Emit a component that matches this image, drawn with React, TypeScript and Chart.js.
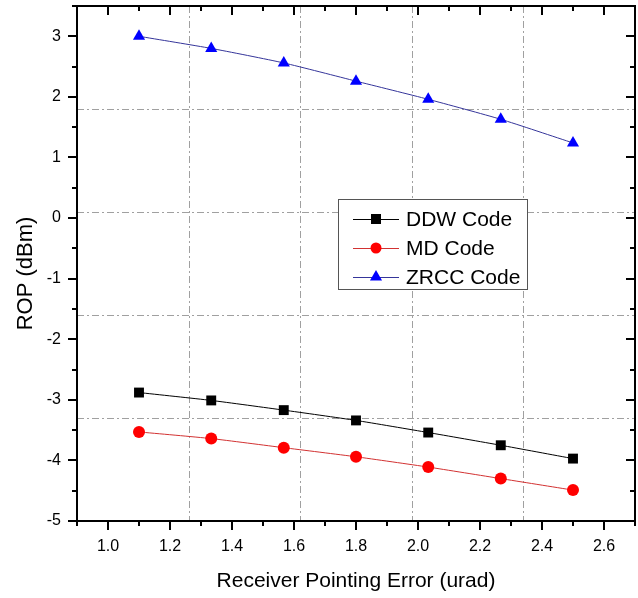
import { useEffect, useRef } from "react";
import { Chart, registerables } from "chart.js";

Chart.register(...registerables);

// Receiver pointing error (urad) sampled for every code
const pointingError = [1.1, 1.333, 1.567, 1.8, 2.033, 2.267, 2.5];

// Received optical power (dBm) per code
const ddwRop = [-2.88, -3.01, -3.17, -3.34, -3.54, -3.75, -3.97];
const mdRop = [-3.53, -3.64, -3.79, -3.94, -4.11, -4.3, -4.49];
const zrccRop = [3.0, 2.8, 2.56, 2.26, 1.96, 1.63, 1.24];

const seriesNames = ["DDW Code", "MD Code", "ZRCC Code"];

// Axis tick labels
const xTickValues = [1.0, 1.2, 1.4, 1.6, 1.8, 2.0, 2.2, 2.4, 2.6];
const yTickValues = [-5, -4, -3, -2, -1, 0, 1, 2, 3];

// Dash-dot reference grid (fifths of each axis range)
const xGridValues = [1.26, 1.62, 1.98, 2.34];
const yGridValues = [1.8, 0.1, -1.6, -3.3];

const FONT = '"Liberation Sans", Arial, Helvetica, sans-serif';

type Style = { line: string; fill: string; shape: "rect" | "circle" | "triangle" };
const seriesStyles: Style[] = [
  { line: "#000000", fill: "#000000", shape: "rect" },
  { line: "#d23232", fill: "#ff0000", shape: "circle" },
  { line: "#35359a", fill: "#0000ff", shape: "triangle" },
];

function drawMarker(ctx: CanvasRenderingContext2D, shape: Style["shape"], x: number, y: number, color: string) {
  ctx.fillStyle = color;
  ctx.beginPath();
  if (shape === "rect") {
    ctx.rect(x - 5, y - 5, 10, 10);
  } else if (shape === "circle") {
    ctx.arc(x, y, 5.5, 0, Math.PI * 2);
  } else {
    const r = 7;
    ctx.moveTo(x, y - r);
    ctx.lineTo(x + r * 0.866, y + r / 2);
    ctx.lineTo(x - r * 0.866, y + r / 2);
    ctx.closePath();
  }
  ctx.fill();
}

const gridPlugin = {
  id: "dashDotGrid",
  beforeDatasetsDraw(chart: any) {
    const { ctx, chartArea, scales } = chart;
    const { left, right, top, bottom } = chartArea;
    ctx.save();
    ctx.strokeStyle = "#a0a0a0";
    ctx.lineWidth = 1;
    ctx.setLineDash([7, 3, 2, 3]);
    for (const v of xGridValues) {
      const px = Math.round(scales.x.getPixelForValue(v)) + 0.5;
      ctx.beginPath();
      ctx.moveTo(px, top);
      ctx.lineTo(px, bottom);
      ctx.stroke();
    }
    for (const v of yGridValues) {
      const py = Math.round(scales.y.getPixelForValue(v)) + 0.5;
      ctx.beginPath();
      ctx.moveTo(left, py);
      ctx.lineTo(right, py);
      ctx.stroke();
    }
    ctx.restore();
  },
};

const framePlugin = {
  id: "frameAndTicks",
  afterDatasetsDraw(chart: any) {
    const { ctx, chartArea, scales } = chart;
    const { left, right, top, bottom } = chartArea;
    ctx.save();
    ctx.strokeStyle = "#000";
    ctx.lineWidth = 2;
    ctx.setLineDash([]);
    ctx.strokeRect(left, top, right - left, bottom - top);

    // x ticks: major every 0.2, minor every 0.1; outward at bottom, inward at top
    for (let i = 9; i <= 27; i++) {
      const major = i % 2 === 0;
      const len = major ? 9 : 5;
      const px = Math.round(scales.x.getPixelForValue(i / 10));
      ctx.beginPath();
      ctx.moveTo(px, bottom);
      ctx.lineTo(px, bottom + len);
      ctx.moveTo(px, top);
      ctx.lineTo(px, top + len);
      ctx.stroke();
    }
    // y ticks: major every 1, minor every 0.5; outward at left, inward at right
    for (let i = -10; i <= 7; i++) {
      const major = i % 2 === 0;
      const len = major ? 9 : 5;
      const py = Math.round(scales.y.getPixelForValue(i / 2));
      ctx.beginPath();
      ctx.moveTo(left - len, py);
      ctx.lineTo(left, py);
      ctx.moveTo(right, py);
      ctx.lineTo(right - len, py);
      ctx.stroke();
    }
    ctx.restore();
  },
};

const titlesAndLegendPlugin = {
  id: "titlesAndLegend",
  afterDraw(chart: any) {
    const { ctx, chartArea } = chart;
    const { left, right, top, bottom } = chartArea;
    ctx.save();
    ctx.fillStyle = "#000";
    ctx.textBaseline = "middle";

    // axis titles
    ctx.textAlign = "center";
    ctx.font = `21px ${FONT}`;
    ctx.fillText("Receiver Pointing Error (urad)", (left + right) / 2, bottom + 60);

    ctx.save();
    ctx.font = `22px ${FONT}`;
    ctx.translate(left - 51, (top + bottom) / 2 + 10);
    ctx.rotate(-Math.PI / 2);
    ctx.fillText("ROP (dBm)", 0, 0);
    ctx.restore();

    // legend box
    const bx = left + 261;
    const by = top + 193;
    const bw = 189;
    const bh = 90;
    ctx.fillStyle = "#fff";
    ctx.fillRect(bx, by, bw, bh);
    ctx.strokeStyle = "#555";
    ctx.lineWidth = 1;
    ctx.strokeRect(bx + 0.5, by + 0.5, bw, bh);

    ctx.font = `21px ${FONT}`;
    ctx.textAlign = "left";
    seriesNames.forEach((name, i) => {
      const st = seriesStyles[i];
      const ry = by + 20 + i * 29;
      ctx.strokeStyle = st.line;
      ctx.lineWidth = 1;
      ctx.beginPath();
      ctx.moveTo(bx + 15, ry + 0.5);
      ctx.lineTo(bx + 61, ry + 0.5);
      ctx.stroke();
      drawMarker(ctx, st.shape, bx + 38, ry, st.fill);
      ctx.fillStyle = "#000";
      ctx.fillText(name, bx + 68, ry + 1);
    });
    ctx.restore();
  },
};

function clearScalePadding(scale: any) {
  scale.paddingTop = 0;
  scale.paddingBottom = 0;
  scale.paddingLeft = 0;
  scale.paddingRight = 0;
}

export default function App() {
  const canvasRef = useRef<HTMLCanvasElement | null>(null);

  useEffect(() => {
    if (!canvasRef.current) return;
    const seriesValues = [ddwRop, mdRop, zrccRop];
    const datasets = seriesValues.map((vals, i) => {
      const st = seriesStyles[i];
      return {
        label: seriesNames[i],
        data: vals.map((v, k) => ({ x: pointingError[k], y: v })),
        borderColor: st.line,
        backgroundColor: st.fill,
        borderWidth: 1,
        pointStyle: st.shape,
        pointRadius: st.shape === "circle" ? 6 : 7,
        pointBorderWidth: 0,
        pointBackgroundColor: st.fill,
        pointBorderColor: st.fill,
        tension: 0.2,
      };
    });

    const chart = new Chart(canvasRef.current, {
      type: "line",
      data: { datasets },
      plugins: [gridPlugin, framePlugin, titlesAndLegendPlugin],
      options: {
        animation: false,
        responsive: false,
        maintainAspectRatio: false,
        layout: { autoPadding: false, padding: { top: 6, right: 3, left: 0, bottom: 0 } },
        plugins: { legend: { display: false }, tooltip: { enabled: false } },
        scales: {
          x: {
            type: "linear",
            min: 0.9,
            max: 2.7,
            afterBuildTicks: (scale: any) => {
              scale.ticks = xTickValues.map((value) => ({ value }));
            },
            afterFit: (scale: any) => {
              scale.height = 77;
              clearScalePadding(scale);
            },
            grid: { display: false, drawTicks: false },
            border: { display: false },
            ticks: {
              padding: 16,
              color: "#000",
              font: { family: FONT, size: 16 },
              callback: (v: any) => Number(v).toFixed(1),
              maxRotation: 0,
              autoSkip: false,
            },
          },
          y: {
            type: "linear",
            min: -5,
            max: 3.5,
            afterBuildTicks: (scale: any) => {
              scale.ticks = yTickValues.map((value) => ({ value }));
            },
            afterFit: (scale: any) => {
              scale.width = 77;
              clearScalePadding(scale);
            },
            grid: { display: false, drawTicks: false },
            border: { display: false },
            ticks: {
              padding: 16,
              color: "#000",
              font: { family: FONT, size: 16 },
              callback: (v: any) => String(v),
              autoSkip: false,
            },
          },
        },
      },
    } as any);

    return () => chart.destroy();
  }, []);

  return (
    <div style={{ position: "fixed", left: 0, top: 0, width: 638, height: 598, background: "#fff" }}>
      <canvas ref={canvasRef} width={638} height={598} style={{ display: "block" }} />
    </div>
  );
}
